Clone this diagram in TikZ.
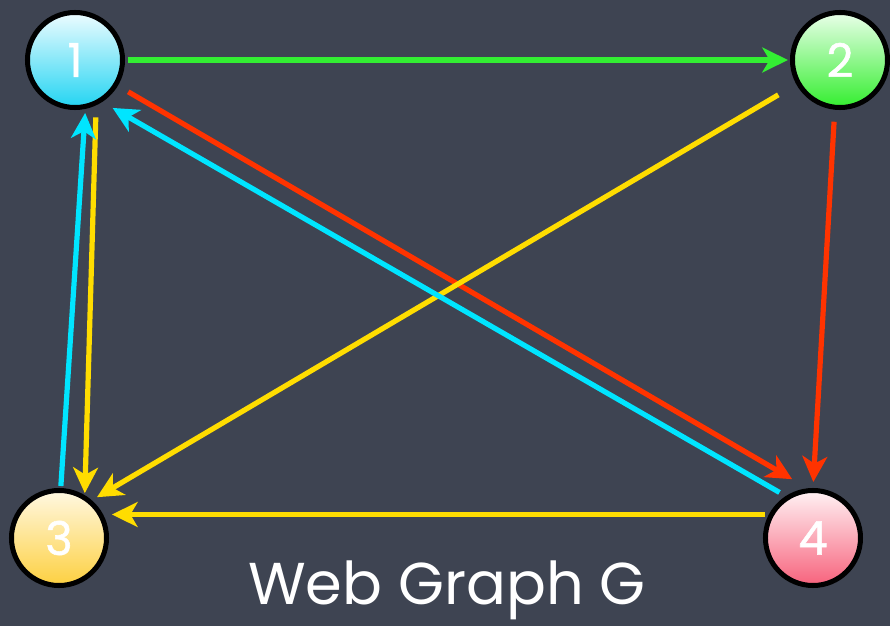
\documentclass[tikz,border=0pt]{standalone}
\usepackage{fontspec}
\setmainfont{Poppins}
\usetikzlibrary{arrows.meta, positioning}
\usepackage{xcolor}
\definecolor{board}{HTML}{3E4452}
\definecolor{onetop}{HTML}{EEFCFF}
\definecolor{onefill}{HTML}{22D4F2}
\definecolor{twotop}{HTML}{EAFFEA}
\definecolor{twofill}{HTML}{33EE2E}
\definecolor{threetop}{HTML}{FFF8E2}
\definecolor{threefill}{HTML}{FDD040}
\definecolor{fourtop}{HTML}{FFF2F4}
\definecolor{fourfill}{HTML}{F7627C}
\definecolor{linkgreen}{HTML}{33EE33}
\definecolor{linkred}{HTML}{FF3300}
\definecolor{linkyellow}{HTML}{FFDD00}
\definecolor{linkcyan}{HTML}{00E5FF}
\tikzset{
  vert/.style ={circle, draw=black, line width=0.125cm, minimum size=2.375cm,
                inner sep=0pt, text=white, font=\fontsize{33}{33}\selectfont\addfontfeatures{FakeBold=1.2}},
  link/.style ={-{Stealth[length=0.64cm, width=0.62cm, inset=0.18cm]}, line width=0.13cm},
  caption/.style={text=white, font=\fontsize{42}{42}\selectfont},
}
\begin{document}
\begin{tikzpicture}[x=0.025cm, y=-0.025cm]
    \fill[board] (0,0) rectangle (890,626);
    \node[vert, top color=onetop, bottom color=onefill] (n1) at (75,60) {1};
    \node[vert, top color=twotop, bottom color=twofill] (n2) at (840,60) {2};
    \node[vert, top color=threetop, bottom color=threefill] (n3) at (59,538) {3};
    \node[vert, top color=fourtop, bottom color=fourfill] (n4) at (813,538) {4};
    \node[caption, anchor=base] (title) at (447,605) {Web Graph G};
    \draw[link, linkgreen, shorten <=0.08cm, shorten >=0.05cm] (n1.east) -- (n2.west);
    \draw[link, linkred, shorten <=0.3cm, shorten >=0.45cm] (n1.-31) -- (n4.96);
    \draw[link, linkred, shorten <=0.3cm, shorten >=0.15cm] (n2.-96) -- (n4.90);
    \draw[link, linkyellow, shorten <=0.52cm, shorten >=0.15cm] (n2.209) -- (n3.49);
    \draw[link, linkcyan, shorten <=0.18cm, shorten >=0.3cm] (n4.123) -- (n1.-57);
    \draw[link, linkyellow, shorten <=0.3cm, shorten >=0.05cm] (n1.-65) -- (n3.59);
    \draw[link, linkcyan, shorten <=0.05cm, shorten >=0.1cm] (n3.88) -- (n1.-78);
    \draw[link, linkyellow, shorten <=0.1cm, shorten >=0.22cm] (n4.152) -- (n3.28);
\end{tikzpicture}
\end{document}
